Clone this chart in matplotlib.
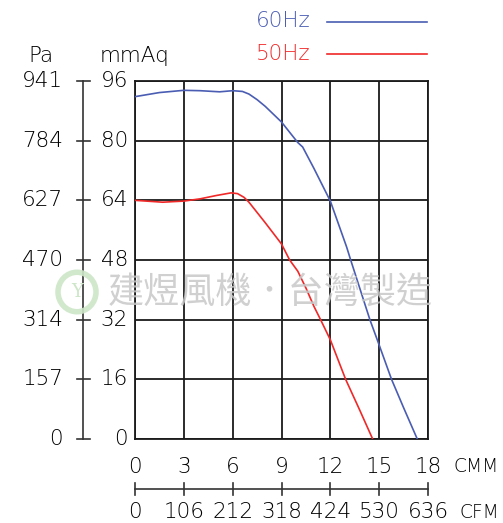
import numpy as np
import matplotlib.pyplot as plt
from matplotlib.patches import Circle

# 60Hz curve (CMM, mmAq)
cmm_60 = [0, 1.5, 3, 4, 5.2, 6, 6.6, 7, 7.5, 8, 9, 10, 10.3, 11, 12, 13, 13.25, 14.43, 15, 15.76, 16.5, 17.34]
mmaq_60 = [91.8, 92.9, 93.5, 93.4, 93.1, 93.4, 93.2, 92.5, 91.0, 89.2, 85.0, 79.5, 78.3, 72.5, 63.8, 51.5, 48.0, 32.0, 25.2, 16.0, 8.4, 0]

# 50Hz curve (CMM, mmAq)
cmm_50 = [0, 1.7, 3, 4, 5, 5.9, 6.3, 6.7, 7, 8, 9, 9.5, 10, 10.5, 11, 11.4, 12, 12.94, 13.8, 14.6]
mmaq_50 = [64.0, 63.5, 63.8, 64.4, 65.3, 66.0, 65.8, 64.8, 63.5, 58.0, 52.3, 48.0, 45.0, 40.5, 35.5, 32.0, 26.6, 16.0, 7.8, 0]

cmm_ticks = [0, 3, 6, 9, 12, 15, 18]
cfm_labels = ["0", "106", "212", "318", "424", "530", "636"]
mmaq_ticks = [0, 16, 32, 48, 64, 80, 96]
pa_labels = ["0", "157", "314", "470", "627", "784", "941"]

blue = "#4a5db3"
red = "#f02828"
fs = 15.5
plt.rcParams["font.weight"] = "light"

fig = plt.figure(figsize=(5.03, 5.23), dpi=100)
ax = fig.add_axes([135 / 503, 84 / 523, 293 / 503, 358 / 523])
ax.set_xlim(0, 18)
ax.set_ylim(0, 96)
ax.set_xticks(cmm_ticks)
ax.set_yticks(mmaq_ticks)
ax.grid(True, color="#1a1a1a", linewidth=1.3)
ax.tick_params(length=0, labelbottom=False, labelleft=False)
for s in ax.spines.values():
    s.set_color("#1a1a1a")
    s.set_linewidth(1.3)

ax.plot(cmm_60, mmaq_60, color=blue, lw=1.2, zorder=3)
ax.plot(cmm_50, mmaq_50, color=red, lw=1.2, zorder=3)

ty = ax.get_yaxis_transform()  # x axes, y data
tx = ax.get_xaxis_transform()  # x data, y axes

# left scales
for v, pa in zip(mmaq_ticks, pa_labels):
    ax.text(-0.024, v, str(v), transform=ty, ha="right", va="center", fontsize=fs, clip_on=False)
    ax.text(-0.245, v, pa, transform=ty, ha="right", va="center", fontsize=fs, clip_on=False)
    ax.plot([-0.198, -0.155], [v, v], transform=ty, color="#333333", lw=1.2, clip_on=False)
ax.plot([-0.1775, -0.1775], [0, 96], transform=ty, color="#333333", lw=1.2, clip_on=False)
fig.text(28 / 503, 1 - 56 / 523, "Pa", fontsize=fs, va="center", ha="left")
fig.text(100 / 503, 1 - 56 / 523, "mmAq", fontsize=fs, va="center", ha="left")

# bottom scales
for c, cf in zip(cmm_ticks, cfm_labels):
    ax.text(c, -0.078, str(c), transform=tx, ha="center", va="center", fontsize=fs, clip_on=False)
    ax.text(c, -0.205, cf, transform=tx, ha="center", va="center", fontsize=fs, clip_on=False)
    ax.plot([c, c], [-0.123, -0.156], transform=tx, color="#333333", lw=1.2, clip_on=False)
ax.plot([0, 18], [-0.1397, -0.1397], transform=tx, color="#333333", lw=1.2, clip_on=False)
fig.text(499 / 503, 1 - 467 / 523, "CMM", fontsize=13.5, va="center", ha="right")
fig.text(499 / 503, 1 - 512 / 523, "CFM", fontsize=13.5, va="center", ha="right")

# legend
fig.text(256 / 503, 1 - 21 / 523, "60Hz", fontsize=fs, color=blue, va="center", ha="left")
fig.text(256 / 503, 1 - 54 / 523, "50Hz", fontsize=fs, color=red, va="center", ha="left")
fig.add_artist(plt.Line2D([327 / 503, 427 / 503], [1 - 22 / 523] * 2, color=blue, lw=1.2))
fig.add_artist(plt.Line2D([327 / 503, 427 / 503], [1 - 54 / 523] * 2, color=red, lw=1.2))

# watermark
fig.text(270 / 503, 1 - 293 / 523, "建煜風機．台灣製造", fontsize=26, color="#c8c8c8", alpha=0.85,
         family=["Noto Sans CJK TC", "DejaVu Sans"], ha="center", va="center", zorder=10)
logo = Circle((77 / 503, 1 - 292 / 523), 19 / 503, transform=fig.transFigure, facecolor="none",
              edgecolor="#cde6c8", lw=4, alpha=0.9, zorder=10)
fig.add_artist(logo)
fig.text(77 / 503, 1 - 292 / 523, "Y", fontsize=13, color="#cde6c8", ha="center", va="center",
         family="DejaVu Serif", zorder=10)

fig.savefig("out.png", dpi=100)
